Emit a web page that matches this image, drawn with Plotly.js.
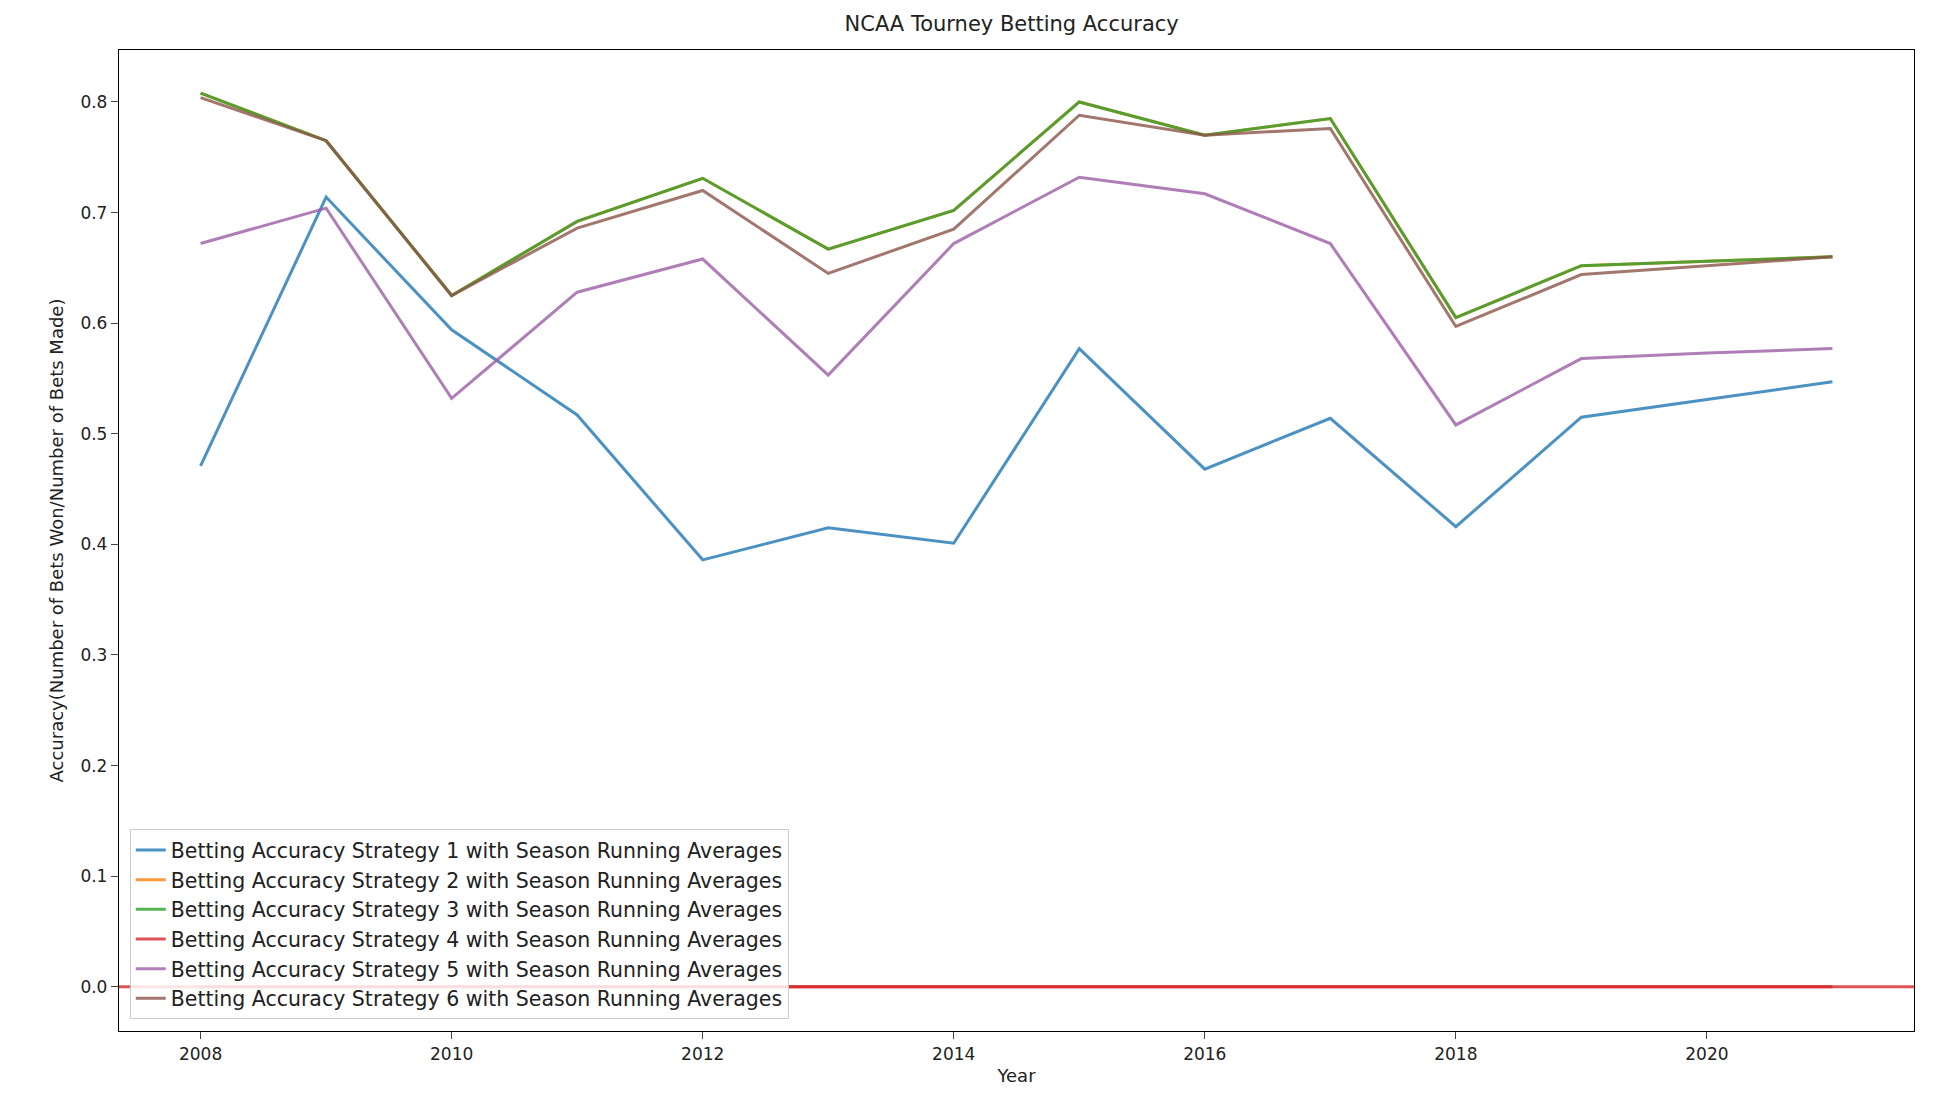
<!DOCTYPE html>
<html>
<head>
<script src="https://cdn.plot.ly/plotly-3.0.1.min.js"></script>
<style>body{margin:0;background:#fff}</style>
</head>
<body>
<div id="myDiv" style="width:1938px;height:1116px"></div>
<script>
const years = [2008, 2009, 2010, 2011, 2012, 2013, 2014, 2015, 2016, 2017, 2018, 2019, 2020, 2021];
const strategy1 = [0.471, 0.714, 0.594, 0.517, 0.386, 0.415, 0.401, 0.577, 0.468, 0.514, 0.416, 0.515, 0.531, 0.547];
const strategy2 = [0.808, 0.765, 0.625, 0.692, 0.731, 0.667, 0.702, 0.800, 0.770, 0.785, 0.605, 0.652, 0.656, 0.660];
const strategy3 = [0.808, 0.765, 0.625, 0.692, 0.731, 0.667, 0.702, 0.800, 0.770, 0.785, 0.605, 0.652, 0.656, 0.660];
const strategy4 = [0, 0, 0, 0, 0, 0, 0, 0, 0, 0, 0, 0, 0, 0];
const strategy5 = [0.672, 0.704, 0.532, 0.628, 0.658, 0.553, 0.672, 0.732, 0.717, 0.672, 0.508, 0.568, 0.573, 0.577];
const strategy6 = [0.804, 0.765, 0.625, 0.686, 0.720, 0.645, 0.685, 0.788, 0.770, 0.776, 0.597, 0.644, 0.652, 0.660];

const series = [strategy1, strategy2, strategy3, strategy4, strategy5, strategy6];
const colors = ['#1f77b4', '#ff7f0e', '#2ca02c', '#d62728', '#9467bd', '#8c564b'];
const lineColors = ['#1f77b4', '#ff7f0e', '#2ca02c', '#d62728', '#9c5ea6', '#8c564b'];

// one line per strategy
var data = series.map((ys, i) => ({
    x: years,
    y: ys,
    type: 'scatter',
    mode: 'lines',
    name: 'Betting Accuracy Strategy ' + (i + 1) + ' with Season Running Averages',
    line: { color: i === 4 ? lineColors[i] : colors[i], width: 3 },
    opacity: 0.8
}));

var layout = {
    width: 1938,
    height: 1116,
    margin: { l: 119, r: 24, t: 50, b: 85 },
    paper_bgcolor: '#fff',
    plot_bgcolor: '#fff',
    font: { family: 'DejaVu Sans', size: 17, color: '#222' },
    title: { text: 'NCAA Tourney Betting Accuracy', x: 0.522, y: 0.985, yanchor: 'top', font: { size: 21 } },
    xaxis: {
        title: { text: 'Year', standoff: 6, font: { size: 18 } },
        range: [2007.35, 2021.65],
        tickvals: [2008, 2010, 2012, 2014, 2016, 2018, 2020],
        ticks: 'outside', ticklen: 7, showgrid: false, zeroline: false,
        showline: true, mirror: true, linecolor: '#000', linewidth: 1.3
    },
    yaxis: {
        title: { text: 'Accuracy(Number of Bets Won/Number of Bets Made)', standoff: 12, font: { size: 18 } },
        range: [-0.04, 0.847],
        tickvals: [0, 0.1, 0.2, 0.3, 0.4, 0.5, 0.6, 0.7, 0.8],
        tickformat: '.1f',
        ticks: 'outside', ticklen: 7, showgrid: false, zeroline: false,
        showline: true, mirror: true, linecolor: '#000', linewidth: 1.3
    },
    // strategy 4 line runs across the whole axes in the original
    shapes: [{
        type: 'line', xref: 'paper', x0: 0, x1: 1, yref: 'y', y0: strategy4[0], y1: strategy4[0],
        line: { color: colors[3], width: 3 }, opacity: 0.8, layer: 'below'
    }],
    legend: {
        x: 0.006, y: 0.012, xanchor: 'left', yanchor: 'bottom',
        bgcolor: 'rgba(255,255,255,0.85)', bordercolor: '#ccc', borderwidth: 1,
        font: { size: 20.5 }, tracegroupgap: 0
    },
    showlegend: true
};

Plotly.newPlot('myDiv', data, layout, { displayModeBar: false });
</script>
</body>
</html>
